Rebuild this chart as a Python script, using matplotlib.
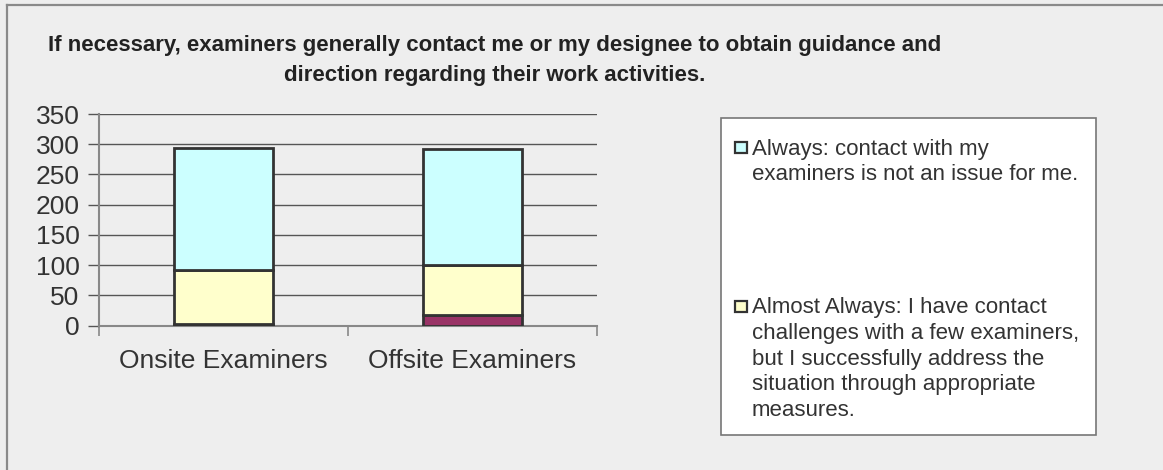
import matplotlib
matplotlib.use("Agg")
import matplotlib.pyplot as plt
from matplotlib.patches import Rectangle
from matplotlib.lines import Line2D

plt.rcParams['font.family'] = ['Liberation Sans', 'DejaVu Sans']

categories = ["Onsite Examiners", "Offsite Examiners"]
series_names = [
    "Sometimes",
    "Almost Always: I have contact\nchallenges with a few examiners,\nbut I successfully address the\nsituation through appropriate\nmeasures.",
    "Always: contact with my\nexaminers is not an issue for me.",
]
sometimes = [3, 17]
almost_always = [89, 83]
always = [202, 192]
series_values = [sometimes, almost_always, always]
series_colors = ["#993366", "#FFFFCC", "#CCFFFF"]
yticks = [0, 50, 100, 150, 200, 250, 300, 350]
title_line1 = "If necessary, examiners generally contact me or my designee to obtain guidance and"
title_line2 = "direction regarding their work activities."

W, H = 1163, 470
fig = plt.figure(figsize=(W / 100, H / 100), dpi=100)
fig.patch.set_facecolor("#EEEEEE")

# outer border (left and top)
fig.add_artist(Line2D([7 / W, 7 / W], [0, 1 - 5 / H], color="#8a8a8a", lw=1.6))
fig.add_artist(Line2D([7 / W, 1], [1 - 5 / H, 1 - 5 / H], color="#8a8a8a", lw=1.6))

ax = fig.add_axes([99 / W, 1 - 325.7 / H, (597 - 99) / W, (325.7 - 114) / H])
ax.set_facecolor("#EEEEEE")
x = list(range(len(categories)))
bottom = [0] * len(categories)
for vals, col, name in zip(series_values, series_colors, series_names):
    ax.bar(x, vals, width=0.4, bottom=bottom, color=col, edgecolor="#333333",
           linewidth=2.0, zorder=3, label=name)
    bottom = [b + v for b, v in zip(bottom, vals)]

ax.set_xlim(-0.5, 1.5)
ax.set_ylim(0, 350)
ax.set_yticks(yticks)
ax.set_yticklabels([str(t) for t in yticks], fontsize=19, color="#333333")
ax.yaxis.grid(True, color="#555555", lw=1.0, zorder=0)
ax.set_axisbelow(True)
ax.set_xticks([-0.5, 0.5, 1.5])
ax.set_xticklabels([])
ax.set_xticks(x, minor=True)
ax.set_xticklabels(categories, minor=True, fontsize=19, color="#333333")
ax.tick_params(axis="x", which="minor", length=0, pad=17)
ax.tick_params(axis="x", which="major", length=7, color="#888888", width=1.2)
ax.tick_params(axis="y", length=8, color="#555555", width=1.0, pad=6)
for s in ["top", "right"]:
    ax.spines[s].set_visible(False)
for s in ["left", "bottom"]:
    ax.spines[s].set_color("#888888")
    ax.spines[s].set_linewidth(1.5)

# title
fig.text(495 / W, 1 - 45 / H, title_line1, ha="center", va="center",
         fontsize=16, fontweight="bold", color="#222222")
fig.text(495 / W, 1 - 75 / H, title_line2, ha="center", va="center",
         fontsize=16, fontweight="bold", color="#222222")

# legend box
fig.add_artist(Rectangle((721 / W, 1 - 435 / H), (1096 - 721) / W, (435 - 118) / H,
                         transform=fig.transFigure, facecolor="white",
                         edgecolor="#777777", lw=1.2))
legend_rows = [(2, 147.5), (1, 306)]
for idx, ycen in legend_rows:
    fig.add_artist(Rectangle((735 / W, 1 - (ycen + 5.5) / H), 12 / W, 11 / H,
                             transform=fig.transFigure, facecolor=series_colors[idx],
                             edgecolor="#333333", lw=1.6))
    fig.text(752 / W, 1 - (ycen - 9) / H, series_names[idx], ha="left", va="top",
             fontsize=16, color="#333333", linespacing=1.3)

fig.savefig("out.png", dpi=100, facecolor=fig.get_facecolor())
